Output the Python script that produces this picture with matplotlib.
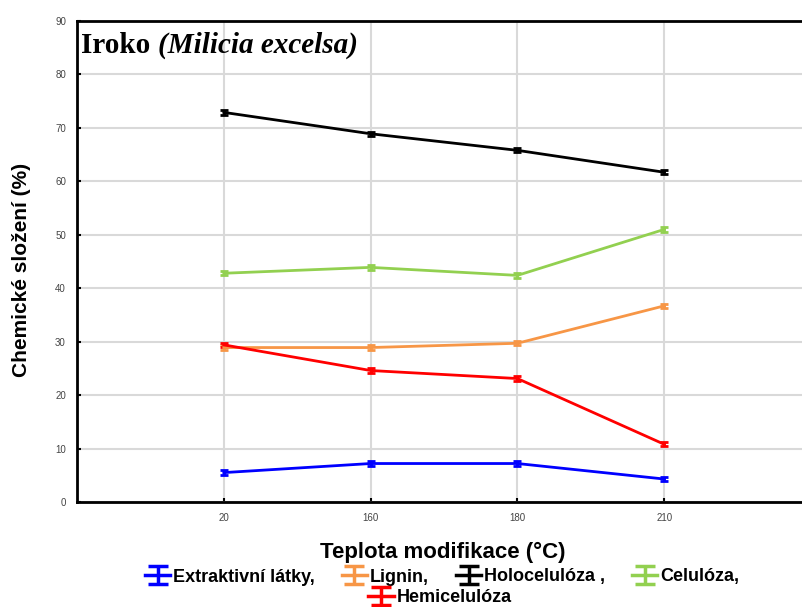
import matplotlib.pyplot as plt
import numpy as np

plt.rcParams['font.family'] = ['Liberation Sans', 'DejaVu Sans']

# data
teploty = ['20', '160', '180', '210']
extraktivni = [5.5, 7.2, 7.2, 4.3]
lignin = [28.9, 28.9, 29.7, 36.7]
holoceluloza = [72.9, 68.9, 65.8, 61.7]
celuloza = [42.8, 43.9, 42.4, 51.0]
hemiceluloza = [29.4, 24.6, 23.1, 10.8]
chyba = [0.4, 0.4, 0.4, 0.4]

series = [
    ('Extraktivní látky,', extraktivni, '#0000ff'),
    ('Lignin,', lignin, '#f79646'),
    ('Holocelulóza ,', holoceluloza, '#000000'),
    ('Celulóza,', celuloza, '#92d050'),
    ('Hemicelulóza', hemiceluloza, '#ff0000'),
]

fig = plt.figure(figsize=(8.03, 6.07), dpi=100)
ax = fig.add_axes([77 / 803, 1 - 502 / 607, (811 - 77) / 803, (502 - 21) / 607])

x = np.arange(1, len(teploty) + 1)
handles = []
for name, vals, col in series:
    ax.errorbar(x, vals, yerr=chyba, color=col, lw=2, capsize=3,
                capthick=2, elinewidth=2, zorder=3)
    # proxy for the legend, bigger caps
    h = ax.errorbar([np.nan], [np.nan], yerr=[1], color=col, lw=2.5,
                    capsize=7, capthick=2.5, elinewidth=2.5, label=name)
    handles.append(h)

ax.set_xlim(0, 5)
ax.set_ylim(0, 90)
ax.set_xticks(x)
ax.set_xticklabels(teploty)
ax.set_yticks(np.arange(0, 91, 10))
ax.grid(True, color='#d9d9d9', lw=1.5, zorder=0)
ax.set_axisbelow(True)
ax.tick_params(direction='in', length=3, width=1.5, labelsize=7,
               labelcolor='#444444', pad=8)
for s in ax.spines.values():
    s.set_linewidth(2)

t1 = ax.text(0.03, 85.5, 'Iroko ', fontsize=21, family='Liberation Serif',
             weight='bold', va='center', ha='left')
ax.annotate('(Milicia excelsa)', xy=(1, 0.5), xycoords=t1, va='center',
            ha='left', fontsize=21, family='Liberation Serif',
            weight='bold', style='italic')

fig.text(22 / 803, 1 - 270 / 607, 'Chemické složení (%)', rotation=90,
         fontsize=15, weight='bold', ha='center', va='center')
fig.text(443 / 803, 1 - 552 / 607, 'Teplota modifikace (°C)', fontsize=16,
         weight='bold', ha='center', va='center')

fig.legend(handles[:4], [s[0] for s in series[:4]], loc='center',
           bbox_to_anchor=(442 / 803, 1 - 577 / 607), ncol=4,
           frameon=False, handlelength=1.4,
           handletextpad=0.15, columnspacing=1.5, borderpad=0,
           prop={'weight': 'bold', 'size': 13})
fig.legend(handles[4:], [series[4][0]], loc='center',
           bbox_to_anchor=(440 / 803, 1 - 598 / 607), frameon=False,
           handlelength=1.4, handletextpad=0.15, borderpad=0,
           prop={'weight': 'bold', 'size': 13})

fig.savefig('out.png', dpi=100)
